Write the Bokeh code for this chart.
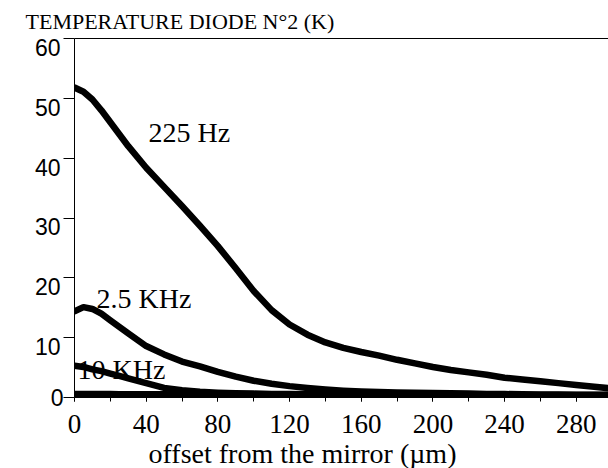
from bokeh.plotting import figure
from bokeh.models import LinearAxis, FixedTicker, SingleIntervalTicker, Label, Range1d, Title
from bokeh.embed import file_html
from bokeh.resources import INLINE

# ---- data ----
offset_um = [0, 5, 10, 15, 20, 25, 30, 40, 50, 60, 70, 80, 90, 100, 110, 120, 130, 140, 150,
             160, 170, 180, 190, 200, 210, 220, 230, 240, 250, 260, 270, 280, 290, 300]
temp_225Hz = [51.8, 51.1, 49.8, 48.0, 46.0, 44.0, 42.0, 38.4, 35.2, 32.0, 28.7, 25.3, 21.6,
              17.8, 14.6, 12.2, 10.5, 9.2, 8.3, 7.6, 7.0, 6.3, 5.7, 5.1, 4.6, 4.2, 3.8, 3.3,
              3.0, 2.7, 2.4, 2.1, 1.8, 1.5]
temp_2_5kHz = [14.4, 15.1, 14.8, 14.0, 12.9, 11.8, 10.7, 8.6, 7.2, 6.0, 5.2, 4.3, 3.5, 2.8,
               2.3, 1.9, 1.6, 1.35, 1.15, 1.0, 0.9, 0.85, 0.8, 0.75, 0.7, 0.65, 0.6, 0.57,
               0.55, 0.52, 0.5, 0.48, 0.46, 0.45]
temp_10kHz = [5.3, 5.1, 4.7, 4.4, 4.0, 3.6, 3.2, 2.4, 1.6, 1.2, 0.95, 0.8, 0.7, 0.65, 0.6,
              0.58, 0.56, 0.55, 0.53, 0.52, 0.5, 0.49, 0.48, 0.47, 0.46, 0.45, 0.44, 0.43,
              0.42, 0.41, 0.4, 0.4, 0.4, 0.4]
temp_base = [0.6, 0.6, 0.59, 0.58, 0.57, 0.56, 0.55, 0.54, 0.53, 0.52, 0.5, 0.5, 0.48, 0.47,
             0.46, 0.45, 0.44, 0.43, 0.42, 0.41, 0.4, 0.39, 0.38, 0.37, 0.36, 0.35, 0.34,
             0.33, 0.33, 0.32, 0.32, 0.31, 0.3, 0.3]
y_ticks = [0, 10, 20, 30, 40, 50, 60]
curve_labels = ["225 Hz", "2.5 KHz", "10 KHz"]
label_pos = [(41.3, 44.3), (12.3, 16.5), (1.7, 4.7)]
title_text = "TEMPERATURE DIODE N\u00b02 (K)"
xlabel_text = "offset from the mirror (\u00b5m)"

SERIF = "Liberation Serif"
SANS = "Liberation Sans"

p = figure(width=608, height=468, output_backend="svg", toolbar_location=None,
           x_range=Range1d(0, 298), y_range=Range1d(0, 60),
           min_border_left=74, min_border_right=0, min_border_top=38, min_border_bottom=68)
p.outline_line_color = None
p.xgrid.visible = False
p.ygrid.visible = False
p.background_fill_color = "white"
p.border_fill_color = "white"

# title
p.title.text = title_text
p.title.align = "left"
p.title.offset = -49
p.title.text_font = SERIF
p.title.text_font_size = "22px"
p.title.text_font_style = "normal"
p.title.text_color = "black"
p.title.standoff = 10

# main y axis: line + outward ticks; only the "0" label is shown here
ya = p.yaxis[0]
ya.ticker = FixedTicker(ticks=y_ticks)
ya.major_tick_in = 0
ya.major_tick_out = 11
ya.minor_tick_line_color = None
ya.major_label_standoff = 0
ya.major_label_overrides = {t: "" for t in y_ticks[1:]}
ya.major_label_text_font = SANS
ya.major_label_text_font_size = "23px"
ya.major_label_text_color = "black"
ya.axis_line_color = "black"
ya.major_tick_line_color = "black"

# second left axis holding the other y labels, shifted so the label tops sit at the ticks
p.extra_y_ranges = {"lab": Range1d(1.5, 61.5)}
yl = LinearAxis(y_range_name="lab", ticker=FixedTicker(ticks=y_ticks[1:]),
                axis_line_color=None, major_tick_line_color=None, minor_tick_line_color=None,
                major_tick_in=0, major_tick_out=0, major_label_standoff=-13,
                major_label_text_font=SANS, major_label_text_font_size="23px",
                major_label_text_color="black")
p.add_layout(yl, "left")

# x axis
xa = p.xaxis[0]
xa.ticker = SingleIntervalTicker(interval=40, num_minor_ticks=2)
xa.major_tick_in = 0
xa.major_tick_out = 4
xa.minor_tick_in = 0
xa.minor_tick_out = 4
xa.minor_tick_line_color = "black"
xa.major_tick_line_color = "black"
xa.axis_line_color = "black"
xa.major_label_standoff = 13
xa.major_label_text_font = SERIF
xa.major_label_text_font_size = "27px"
xa.major_label_text_color = "black"

# x axis title
p.add_layout(Title(text=xlabel_text, align="left", offset=74, text_font=SERIF,
                   text_font_size="28px", text_font_style="normal", text_color="black",
                   standoff=0), "below")

# top border line
top = LinearAxis(ticker=FixedTicker(ticks=[]), axis_line_color="black",
                 major_tick_line_color=None, minor_tick_line_color=None,
                 major_label_text_font_size="0px")
p.add_layout(top, "above")

# curves
for ys in [temp_base, temp_10kHz, temp_2_5kHz, temp_225Hz]:
    p.line(offset_um, ys, line_color="black", line_width=6.5, line_join="round", line_cap="round")

for txt, (lx, ly) in zip(curve_labels, label_pos):
    p.add_layout(Label(x=lx, y=ly, text=txt, text_font=SERIF, text_font_size="28px",
                       text_color="black", text_baseline="middle"))

open("out.html", "w").write(file_html(p, INLINE))
